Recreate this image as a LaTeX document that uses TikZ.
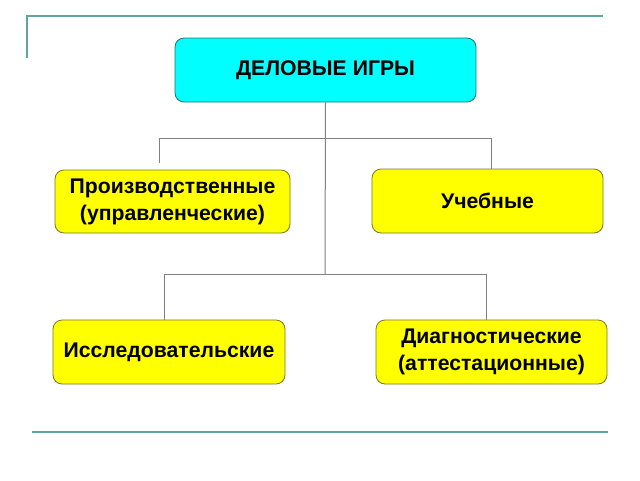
\documentclass[tikz,border=0pt]{standalone}
\usepackage{fontspec}
\setmainfont{Liberation Sans}
\definecolor{teal1}{RGB}{95,165,160}
\definecolor{cyanfill}{RGB}{0,255,255}
\definecolor{yellowfill}{RGB}{255,255,0}
\definecolor{yborder}{RGB}{120,120,40}
\definecolor{cborder}{RGB}{40,110,110}
\definecolor{conn}{RGB}{128,128,128}
\tikzset{
  box/.style={draw=yborder, fill=yellowfill, rounded corners=9pt, line width=0.8pt,
    align=center, font=\fontsize{21.2}{27}\selectfont\bfseries, inner sep=0pt},
  topbox/.style={box, draw=cborder, fill=cyanfill},
  conn/.style={draw=conn, line width=1pt},
  frame/.style={draw=teal1, line width=2pt}
}
\begin{document}
\begin{tikzpicture}[x=1pt,y=-1pt]
\useasboundingbox (0,0) rectangle (640,480);
% frame lines
\coordinate (f1) at (27,58);
\coordinate (f2) at (27,16);
\coordinate (f3) at (603,16);
\draw[frame] (f1) -- (f2) -- (f3);
\coordinate (b1) at (32,432);
\coordinate (b2) at (608,432);
\draw[frame] (b1) -- (b2);
% boxes
\node[topbox, minimum width=301pt, minimum height=64pt] (top) at (325.5,70) {ДЕЛОВЫЕ ИГРЫ};
\node[box, minimum width=235pt, minimum height=63pt] (p) at (172.5,201.5) {Производственные\\(управленческие)};
\node[box, minimum width=231pt, minimum height=64pt] (u) at (487.5,201) {Учебные};
\node[box, minimum width=232pt, minimum height=64pt] (i) at (169,352) {Исследовательские};
\node[box, minimum width=231pt, minimum height=64pt] (d) at (491.5,352) {Диагностические\\(аттестационные)};
% connectors
\coordinate (j1) at (325,138);
\coordinate (j2) at (325,274);
\coordinate (pl) at (159,138);
\coordinate (pe) at (159,163);
\coordinate (ur) at (491,138);
\coordinate (il) at (164,274);
\coordinate (dr) at (486,274);
\draw[conn] (top.south) -- (j2);
\draw[conn] (pe) -- (pl) -- (ur) -- (ur |- u.north);
\draw[conn] (il |- i.north) -- (il) -- (dr) -- (dr |- d.north);
\end{tikzpicture}
\end{document}
